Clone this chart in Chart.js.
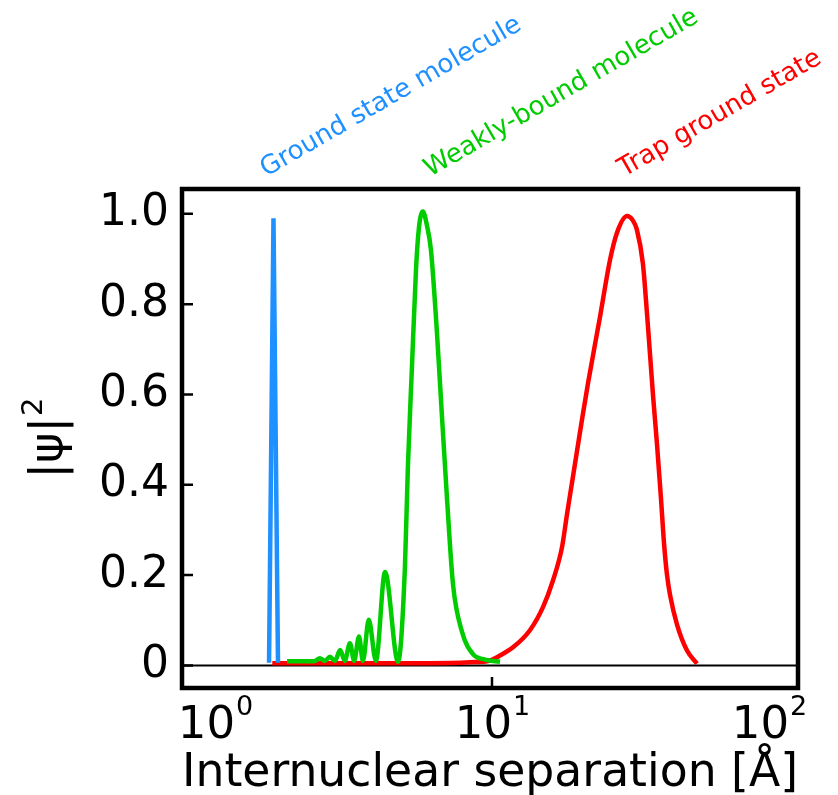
<!DOCTYPE html>
<html>
<head>
<meta charset="utf-8">
<script src="https://cdn.jsdelivr.net/npm/chart.js@4.4.0/dist/chart.umd.min.js"></script>
<style>
  body { margin: 0; background: #fff; }
  canvas { display: block; }
</style>
</head>
<body>
<canvas id="myChart" width="838" height="795"></canvas>
<script>
// |psi|^2 of three states against internuclear separation (Angstrom), each scaled to a peak of ~1

const ground_x = [1.567, 1.626, 1.688];
const ground_y = [0.006, 0.99, 0.006];

const weak_x = [1.82, 2.10, 2.30, 2.39, 2.49, 2.60, 2.71, 2.83, 2.94, 3.07, 3.18, 3.31, 3.42, 3.59, 3.81, 4.11, 4.58,
  4.85, 4.97, 5.14, 5.32, 5.45, 5.63, 5.82, 6.02, 6.33, 6.60, 6.88, 7.23, 7.79, 8.54, 9.44, 10.69];
const weak_y = [0.009, 0.009, 0.010, 0.016, 0.010, 0.019, 0.010, 0.034, 0.010, 0.049, 0.010, 0.064, 0.010, 0.101, 0.010, 0.207, 0.008,
  0.218, 0.44, 0.66, 0.88, 0.97, 1.005, 0.975, 0.92, 0.736, 0.55, 0.37, 0.18, 0.075, 0.025, 0.013, 0.008];

const trap_x = [1.61, 3.07, 5.97, 8.33, 9.84, 10.69, 11.91, 13.71, 15.28, 16.60, 17.90, 18.66, 19.45, 20.28, 21.14, 22.22,
  24.55, 26.68, 28.27, 30.71, 32.28, 33.35, 35.06, 36.27, 37.19, 38.12, 39.42, 40.75, 41.80, 42.85, 43.97, 46.59, 50.60, 54.97];
const trap_y = [0.005, 0.005, 0.005, 0.007, 0.011, 0.022, 0.04, 0.078, 0.129, 0.188, 0.262, 0.335, 0.405, 0.475, 0.545, 0.625,
  0.772, 0.898, 0.958, 0.995, 0.985, 0.965, 0.89, 0.78, 0.69, 0.60, 0.49, 0.37, 0.27, 0.20, 0.155, 0.09, 0.033, 0.004];

const x_ticks = [1, 10, 100];
const y_ticks = [0, 0.2, 0.4, 0.6, 0.8, 1.0];
const state_names = ['Ground state molecule', 'Weakly-bound molecule', 'Trap ground state'];

const FONT = 'DejaVu Sans';
const colors = ['#1e90ff', '#00cc00', '#ff0000'];

function to_points(xs, ys) {
  return xs.map((x, i) => ({x: x, y: ys[i]}));
}

// frame, zero line, inward ticks, 10^n labels, |psi|^2 title and the tilted state names
const decorations = {
  id: 'decorations',
  beforeDatasetsDraw(chart) {
    const {ctx, chartArea: a, scales: {y}} = chart;
    ctx.save();
    ctx.strokeStyle = '#000';
    ctx.lineWidth = 2;
    let y0 = y.getPixelForValue(0);
    ctx.beginPath();
    ctx.moveTo(a.left, y0);
    ctx.lineTo(a.right, y0);
    ctx.stroke();
    ctx.restore();
  },
  afterDatasetsDraw(chart) {
    const {ctx, chartArea: a, scales: {x, y}} = chart;
    ctx.save();
    ctx.strokeStyle = '#000';
    ctx.lineWidth = 2.5;
    ctx.beginPath();
    y_ticks.forEach(v => {
      let py = y.getPixelForValue(v);
      ctx.moveTo(a.left, py);
      ctx.lineTo(a.left + 11, py);
    });
    let px = x.getPixelForValue(10);
    ctx.moveTo(px, a.bottom);
    ctx.lineTo(px, a.bottom - 11);
    ctx.stroke();

    ctx.lineWidth = 4.5;
    ctx.strokeRect(a.left, a.top, a.right - a.left, a.bottom - a.top);
    ctx.restore();
  },
  afterDraw(chart) {
    const {ctx, chartArea: a, scales: {x, y}} = chart;
    ctx.save();
    ctx.fillStyle = '#000';
    ctx.textBaseline = 'alphabetic';
    ctx.textAlign = 'left';

    // x tick labels as 10 with a raised exponent
    x_ticks.forEach(v => {
      let exp = String(Math.round(Math.log10(v)));
      ctx.font = `45px "${FONT}"`;
      let w1 = ctx.measureText('10').width;
      ctx.font = `27px "${FONT}"`;
      let w2 = ctx.measureText(exp).width;
      let start = x.getPixelForValue(v) - (w1 + w2) / 2;
      ctx.font = `45px "${FONT}"`;
      ctx.fillText('10', start, a.bottom + 50);
      ctx.font = `27px "${FONT}"`;
      ctx.fillText(exp, start + w1 + 1, a.bottom + 27);
    });

    // y title |psi|^2, rotated
    ctx.save();
    ctx.font = `46px "${FONT}"`;
    let wt = ctx.measureText('|ψ|').width;
    ctx.font = `29px "${FONT}"`;
    let ws = ctx.measureText('2').width;
    ctx.translate(62, (a.top + a.bottom) / 2 + (wt + ws) / 2);
    ctx.rotate(-Math.PI / 2);
    ctx.font = `46px "${FONT}"`;
    ctx.fillText('|ψ|', 0, 0);
    ctx.font = `29px "${FONT}"`;
    ctx.fillText('2', wt + 1, -20);
    ctx.restore();

    // state names above the frame, tilted 30 degrees
    const anchors = [1.528, 5.97, 29.96];
    ctx.font = `26px "${FONT}"`;
    state_names.forEach((name, i) => {
      ctx.save();
      ctx.translate(x.getPixelForValue(anchors[i]), a.top - 12);
      ctx.rotate(-Math.PI / 6);
      ctx.fillStyle = colors[i];
      ctx.fillText(name, 0, 0);
      ctx.restore();
    });
    ctx.restore();
  }
};

let ctx = document.getElementById('myChart').getContext('2d');
let chart = new Chart(ctx, {
  type: 'line',
  data: {
    datasets: [{
      label: state_names[0],
      data: to_points(ground_x, ground_y),
      borderColor: colors[0],
      borderWidth: 4.5,
      pointRadius: 0,
      tension: 0
    }, {
      label: state_names[1],
      data: to_points(weak_x, weak_y),
      borderColor: colors[1],
      borderWidth: 4.5,
      pointRadius: 0,
      cubicInterpolationMode: 'monotone'
    }, {
      label: state_names[2],
      data: to_points(trap_x, trap_y),
      borderColor: colors[2],
      borderWidth: 4.5,
      pointRadius: 0,
      cubicInterpolationMode: 'monotone'
    }]
  },
  options: {
    responsive: false,
    animation: false,
    layout: { padding: { top: 189, right: 40, left: 0, bottom: 0 } },
    plugins: { legend: { display: false }, tooltip: { enabled: false } },
    scales: {
      x: {
        type: 'logarithmic',
        min: 0.76,
        max: 127.3,
        afterFit: (axis) => { axis.height = 107; },
        grid: { display: false, drawTicks: false },
        border: { display: false },
        ticks: { display: false },
        title: {
          display: true,
          text: 'Internuclear separation [Å]',
          color: '#000',
          font: { family: FONT, size: 46, lineHeight: 0.9 },
          padding: { top: 0, bottom: 0 }
        }
      },
      y: {
        min: -0.05,
        max: 1.055,
        afterBuildTicks: (axis) => { axis.ticks = y_ticks.map(v => ({value: v})); },
        afterFit: (axis) => { axis.width = 182; },
        grid: { display: false, drawTicks: false },
        border: { display: false },
        ticks: {
          color: '#000',
          padding: 13,
          font: { family: FONT, size: 44 },
          callback: (v) => v === 0 ? '0' : v.toFixed(1)
        }
      }
    }
  },
  plugins: [decorations]
});
</script>
</body>
</html>
